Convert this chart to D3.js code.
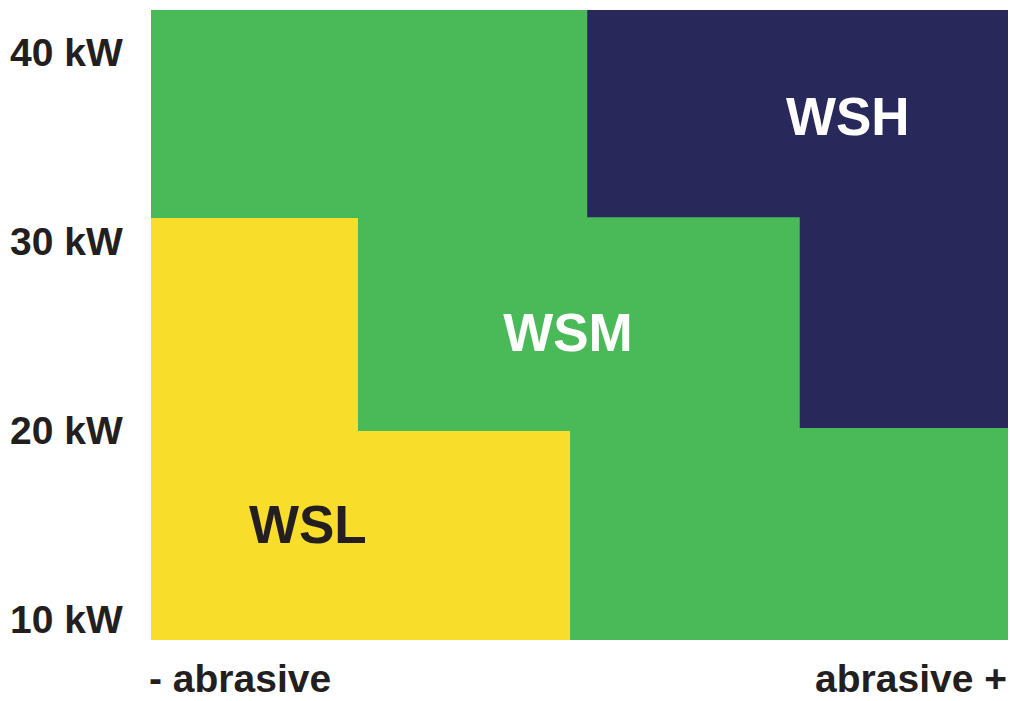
<!DOCTYPE html>
<html>
<head>
<meta charset="utf-8">
<script src="https://cdn.jsdelivr.net/npm/d3@7"></script>
<style>
  html, body { margin: 0; padding: 0; background: #fff; }
  text { font-family: "Liberation Sans", Arial, Helvetica, sans-serif; font-weight: bold; }
</style>
</head>
<body>
<div id="chart"></div>
<script>
// Werte
const powerTicks = [10, 20, 30, 40];
const tickLabels = ["10 kW", "20 kW", "30 kW", "40 kW"];
const powerExtent = [8.9, 42.2];      // kW
const abrasiveExtent = [0, 100];      // relative Abrasivität
const axisLabels = ["- abrasive", "abrasive +"];

// Bereiche als Polygone [abrasiv, kW]
const wslArea = [[0, 8.9], [0, 31.2], [24.15, 31.2], [24.15, 19.95], [48.9, 19.95], [48.9, 8.9]];
const wshArea = [[50.9, 42.2], [100, 42.2], [100, 20.1], [75.7, 20.1], [75.7, 31.25], [50.9, 31.25]];

const zoneNames = ["WSL", "WSM", "WSH"];
const zoneAnchors = [[18.3, 14.03], [48.66, 24.17], [81.3, 35.6]];

const colors = { WSL: "#f9dd2b", WSM: "#4ab958", WSH: "#28285b" };
const labelColors = { WSL: "#231f20", WSM: "#ffffff", WSH: "#ffffff" };

const width = 1010, height = 701;
const plot = { left: 151, right: 1008, top: 10, bottom: 640 };

const svg = d3.select("#chart").append("svg")
    .attr("width", width)
    .attr("height", height);

const x = d3.scaleLinear().domain(abrasiveExtent).range([plot.left, plot.right]);
const y = d3.scaleLinear().domain(powerExtent).range([plot.bottom, plot.top]);

// Hintergrund = WSM
svg.append("rect")
    .attr("x", x(abrasiveExtent[0]))
    .attr("y", y(powerExtent[1]))
    .attr("width", x(abrasiveExtent[1]) - x(abrasiveExtent[0]))
    .attr("height", y(powerExtent[0]) - y(powerExtent[1]))
    .attr("fill", colors.WSM);

const line = d3.line().x(d => x(d[0])).y(d => y(d[1]));

svg.append("path")
    .attr("d", line(wslArea) + "Z")
    .attr("fill", colors.WSL);

svg.append("path")
    .attr("d", line(wshArea) + "Z")
    .attr("fill", colors.WSH);

// Zonen-Beschriftung
svg.selectAll(".zone-label")
    .data(zoneNames)
    .enter()
    .append("text")
    .attr("class", "zone-label")
    .attr("x", (d, i) => x(zoneAnchors[i][0]))
    .attr("y", (d, i) => y(zoneAnchors[i][1]))
    .attr("text-anchor", "middle")
    .style("font-size", "53px")
    .attr("fill", d => labelColors[d])
    .text(d => d);

// y-Achse (nur Texte)
svg.selectAll(".tick-label")
    .data(powerTicks)
    .enter()
    .append("text")
    .attr("class", "tick-label")
    .attr("x", 10)
    .attr("y", d => y(d))
    .attr("dy", "0.36em")
    .style("font-size", "39px")
    .attr("fill", "#231f20")
    .text((d, i) => tickLabels[i]);

// x-Achse
svg.append("text")
    .attr("x", x(abrasiveExtent[0]) - 2)
    .attr("y", 692)
    .attr("text-anchor", "start")
    .style("font-size", "39px")
    .attr("fill", "#231f20")
    .text(axisLabels[0]);

svg.append("text")
    .attr("x", x(abrasiveExtent[1]) - 1)
    .attr("y", 692)
    .attr("text-anchor", "end")
    .style("font-size", "39px")
    .attr("fill", "#231f20")
    .text(axisLabels[1]);
</script>
</body>
</html>
